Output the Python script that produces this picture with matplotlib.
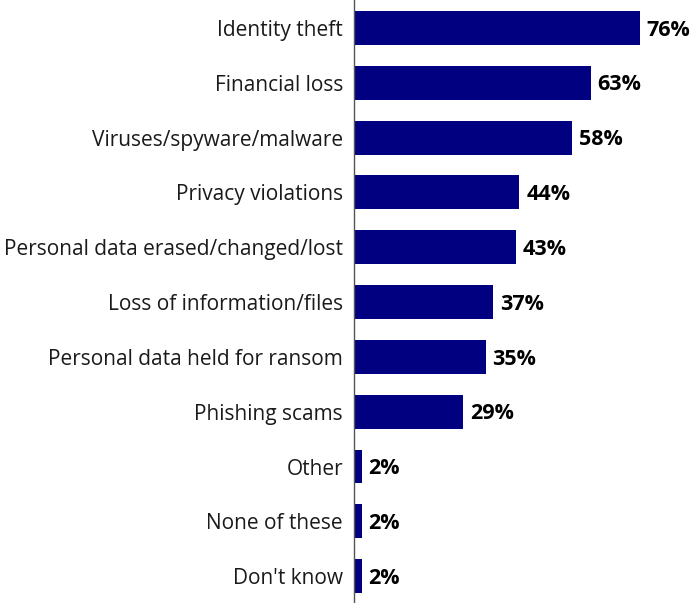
import matplotlib
matplotlib.use("Agg")
import matplotlib.pyplot as plt

# survey answers, top to bottom
categories = [
    "Identity theft",
    "Financial loss",
    "Viruses/spyware/malware",
    "Privacy violations",
    "Personal data erased/changed/lost",
    "Loss of information/files",
    "Personal data held for ransom",
    "Phishing scams",
    "Other",
    "None of these",
    "Don't know",
]
values = [76, 63, 58, 44, 43, 37, 35, 29, 2, 2, 2]

plt.rcParams["font.family"] = ["Open Sans", "DejaVu Sans"]

fig = plt.figure(figsize=(6.95, 6.03), dpi=100)
ax = fig.add_axes([354 / 695, 0, 341 / 695, 1])

pos = list(range(len(categories)))
ax.barh(pos, values, height=0.62, color="#000080")

for y, v in zip(pos, values):
    ax.text(v + 1.8, y + 0.04, f"{v}%", va="center", ha="left",
            fontsize=15.5, fontweight="bold", color="black")

ax.set_xlim(0, 90.7)
ax.set_ylim(len(categories) - 0.51, -0.51)
ax.set_yticks(pos)
ax.set_yticklabels(categories, fontsize=15, color="#1a1a1a")
ax.tick_params(axis="y", length=0, pad=8)
ax.set_xticks([])

for side in ["top", "right", "bottom"]:
    ax.spines[side].set_visible(False)
ax.spines["left"].set_color("#555555")
ax.spines["left"].set_linewidth(1.0)

fig.savefig("out.png", dpi=100)
